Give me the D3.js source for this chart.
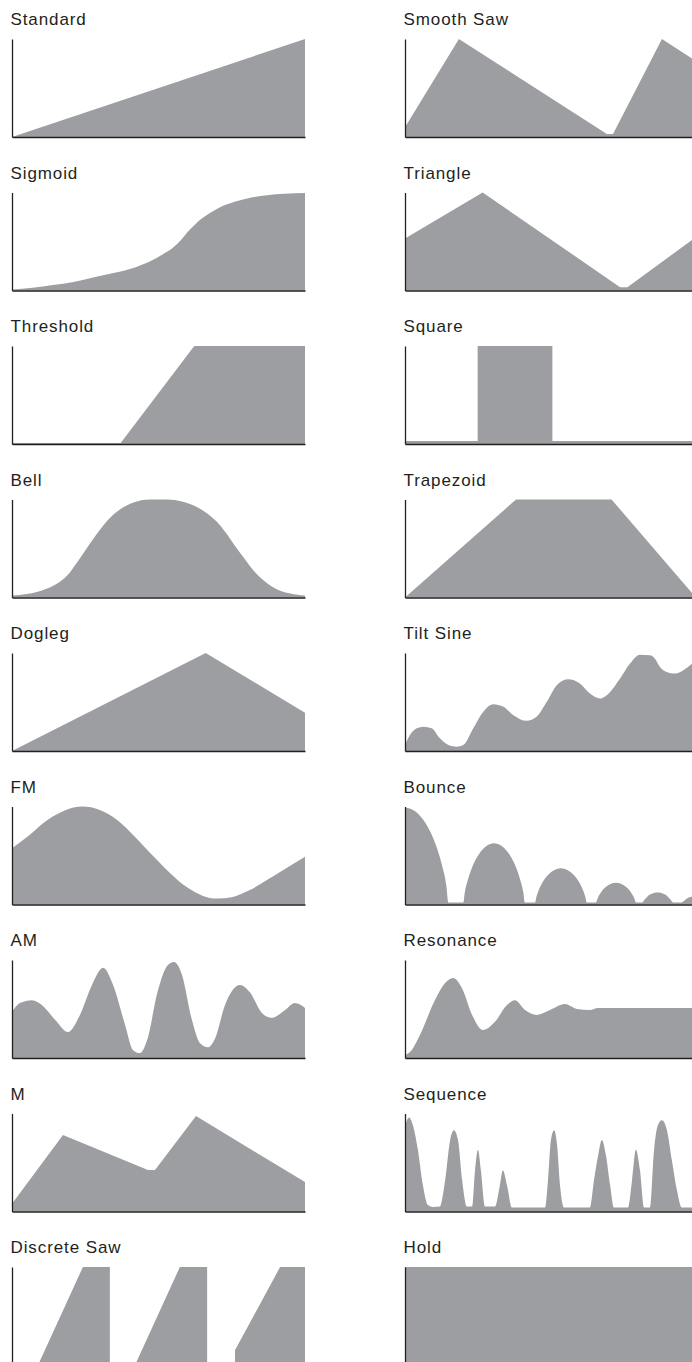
<!DOCTYPE html>
<html>
<head>
<meta charset="utf-8">
<script src="https://cdn.jsdelivr.net/npm/d3@7/dist/d3.min.js"></script>
<style>
  body { margin: 0; background: #fff; }
  svg { display: block; }
</style>
</head>
<body>
<script>
// shapes as [x %, level %] pairs
var standard = [[0,0],[100,100]];
var smoothSaw = [[0,10],[18.4,100],[68.9,3],[71,3],[87.7,100],[100,76]];
var sigmoid = [[0,1],[7,2.7],[14,5.5],[21,8.6],[28,13.5],[35,18],[42,23.5],[48,31],[52,38],[55,44],
               [57.5,51],[60,60],[63,69],[67,78],[71,85],[76,90.5],[81,94.5],[87,97.3],[93,98.8],[100,99.5]];
var triangle = [[0,53],[26.5,100],[73.4,3.4],[75.9,3.4],[100,56]];
var threshold = [[0,1],[37.1,1],[62.2,100],[100,100]];
var square = [[0,3],[24.8,3],[24.8,100],[50.3,100],[50.3,3],[100,3]];
var bell = [[0,2],[5,3.5],[10,7],[15,13.5],[19,23],[22,35],[25,48],[28,61],[31,73],[34,83],[38,92],
            [42,97.5],[47,100],[53,100],[58,98],[62,94],[66,87],[70,77],[73,66],[76,53],[79,41],
            [82,29],[86,17],[90,9],[95,4],[100,2]];
var trapezoid = [[0,0],[37.9,100],[70.5,100],[99.3,0],[100,0]];
var dogleg = [[0,0],[66.1,100],[100,39]];
var tiltSine = [[0,6.1],[1.7,16.3],[4,23.1],[6.3,24.7],[9.1,23.1],[11.9,12.9],[14.8,6.1],[17.6,4.4],
                [19.9,6.1],[23.3,23.1],[26.7,40],[30.1,47.8],[33.6,45.1],[37,36.6],[41.5,30.8],
                [44.9,34.9],[48.4,50.2],[51.8,67.1],[55.7,73.2],[59.7,68.8],[63.1,58.6],[66.6,53.6],
                [70,60.3],[73.4,73.9],[76.8,89.2],[80.2,98.3],[83.6,97.6],[85.3,94.2],[87,85.8],
                [89.3,80.7],[92.2,79],[95,82.4],[98,89.2],[100,93]];
var fm = [[0,57.3],[6,71],[12,86],[18,96],[24,100],[30,96.5],[36,86],[42,69],[48,50],[54,32],
          [60,17],[65,9],[70,6],[75,7.5],[81,14.5],[87,25],[93,36],[100,48.8]];
var bounce = [[0,99],[3.7,94.6],[7.4,81],[10.4,61.8],[12.6,40.4],[14.1,19.4],[14.8,2],
              [19.9,2],[20.4,12.3],[21.5,25.5],[23.05,39],[25.15,51.1],[27.8,59.8],[30.4,62.5],
              [33,59.8],[35.65,51.1],[37.75,39],[39.3,25.5],[40.4,12.3],[40.9,2],
              [44.4,2],[44.8,7.2],[45.7,15.1],[47,23],[48.8,30.2],[51,35.3],[53.2,36.9],
              [55.4,35.3],[57.6,30.2],[59.4,23],[60.7,15.1],[61.6,7.2],[62,2],
              [65.2,2],[65.5,4.4],[66.2,9.1],[67.2,13.9],[68.6,18.2],[70.3,21.2],[72,22.2],
              [73.7,21.2],[75.4,18.2],[76.8,13.9],[77.8,9.1],[78.5,4.4],[78.8,2],
              [81,2],[81.3,3],[81.8,5],[82.6,7.7],[83.6,10.1],[84.9,11.8],[86.2,12.3],
              [87.5,11.8],[88.8,10.1],[89.8,7.7],[90.6,5],[91.1,3],[91.4,2],
              [94.4,2],[94.7,2.5],[95.2,3.6],[96,5.6],[97,7.3],[98.3,8.5],[99.6,8.9],[100,8.9]];
var am = [[0,47],[2.7,56],[6.8,59],[10.2,54],[14.7,39],[19.1,26.5],[23.2,44],[27.3,74.5],[31.1,92],
          [34.5,74.5],[38.6,33.7],[41.3,8],[43.7,5],[46.1,18],[49.8,69],[53.2,95],[55.3,98],[58,85],
          [61.4,39],[64.2,15],[66.9,11],[69.3,20],[72.7,54],[77.8,74.5],[81.2,67],[85.3,46],
          [88.7,41],[93.2,49],[96.6,56],[100,51]];
var resonance = [[0,3],[1.7,6],[5.1,23.5],[10.2,59],[13.7,76.5],[16.4,81.6],[19.5,71],[22.9,44],
                 [26.6,28.6],[30.7,37],[34.8,54],[37.5,59],[41,49],[45,44],[49.5,49],[54.6,55],
                 [58.7,50],[63.1,49],[65.9,51],[100,51]];
var mShape = [[0,8],[17.4,78],[46.4,42.3],[48.8,42.3],[62.8,97.4],[100,30]];
var sequence = [[0,88],[1.4,96],[2.7,88],[4.4,63],[6.1,27],[7.8,6.6],[9.6,4.6],
                [11.9,5],[13.7,32],[15.4,73],[16.7,83],[18.1,73],[19.5,32],[21.2,5],
                [22.9,5],[23.9,42],[24.9,63],[25.9,42],[27.3,5],
                [30.7,5],[32.4,27],[33.4,42],[34.8,27],[36.5,4],
                [47.8,4],[48.8,32],[49.8,73],[50.9,83],[51.9,68],[52.9,27],[54.3,4],
                [63.1,4],[64.5,32],[65.9,57],[67.2,73],[68.6,57],[70,27],[71.3,4],
                [76.1,4],[77.5,32],[78.8,63],[80.2,42],[81.6,4],
                [83.6,4],[85,63],[86.3,88],[87.7,93],[89.4,83],[91.1,52],[92.8,22],[94.5,4],[100,4]];
var discreteSaw = [[8.9,0],[24.2,100],[33.4,100],[33.4,0],[42,0],[57.3,100],[66.6,100],[66.6,0],
                   [76.1,0],[76.1,15],[91.5,100],[100,100]];
var hold = [[0,100],[100,100]];

var panels = [
  {name: "Standard", col: 0, row: 0, data: standard, smooth: false},
  {name: "Smooth Saw", col: 1, row: 0, data: smoothSaw, smooth: false},
  {name: "Sigmoid", col: 0, row: 1, data: sigmoid, smooth: true},
  {name: "Triangle", col: 1, row: 1, data: triangle, smooth: false},
  {name: "Threshold", col: 0, row: 2, data: threshold, smooth: false},
  {name: "Square", col: 1, row: 2, data: square, smooth: false},
  {name: "Bell", col: 0, row: 3, data: bell, smooth: true},
  {name: "Trapezoid", col: 1, row: 3, data: trapezoid, smooth: false},
  {name: "Dogleg", col: 0, row: 4, data: dogleg, smooth: false},
  {name: "Tilt Sine", col: 1, row: 4, data: tiltSine, smooth: true},
  {name: "FM", col: 0, row: 5, data: fm, smooth: true},
  {name: "Bounce", col: 1, row: 5, data: bounce, smooth: true},
  {name: "AM", col: 0, row: 6, data: am, smooth: true},
  {name: "Resonance", col: 1, row: 6, data: resonance, smooth: true},
  {name: "M", col: 0, row: 7, data: mShape, smooth: false},
  {name: "Sequence", col: 1, row: 7, data: sequence, smooth: true},
  {name: "Discrete Saw", col: 0, row: 8, data: discreteSaw, smooth: false},
  {name: "Hold", col: 1, row: 8, data: hold, smooth: false}
];

var width = 692,
    height = 1362,
    colX = [12, 405],
    panelW = 293,
    panelH = 98,
    rowStep = 153.5,
    firstTitle = 25;

var svg = d3.select("body").append("svg")
    .attr("width", width)
    .attr("height", height);

var x = d3.scaleLinear().domain([0, 100]).range([0, panelW]);
var y = d3.scaleLinear().domain([0, 100]).range([panelH, 0]);

panels.forEach(function(p) {
    var base = firstTitle + rowStep * p.row;
    var top = base + 14;

    svg.append("text")
        .attr("x", colX[p.col] - 1.5)
        .attr("y", base)
        .attr("font-family", "'Liberation Sans', Arial, Helvetica, sans-serif")
        .attr("font-size", 17)
        .attr("letter-spacing", 0.9)
        .attr("fill", "#231f20")
        .text(p.name);

    var g = svg.append("g")
        .attr("transform", "translate(" + colX[p.col] + "," + top + ")");

    var area = d3.area()
        .x(function(d) { return x(d[0]); })
        .y0(panelH)
        .y1(function(d) { return y(d[1]); })
        .curve(p.smooth ? d3.curveMonotoneX : d3.curveLinear);

    g.append("path")
        .datum(p.data)
        .attr("d", area)
        .attr("fill", "#9d9ea2");

    // bare axes, no ticks
    var yAxis = g.append("g").call(d3.axisLeft(y).tickValues([]).tickSizeOuter(0));
    yAxis.select(".domain").attr("stroke", "#231f20").attr("stroke-width", 1.3);

    var xAxis = g.append("g")
        .attr("transform", "translate(0," + panelH + ")")
        .call(d3.axisBottom(x).tickValues([]).tickSizeOuter(0));
    xAxis.select(".domain").attr("stroke", "#231f20").attr("stroke-width", 1.6);
});
</script>
</body>
</html>
